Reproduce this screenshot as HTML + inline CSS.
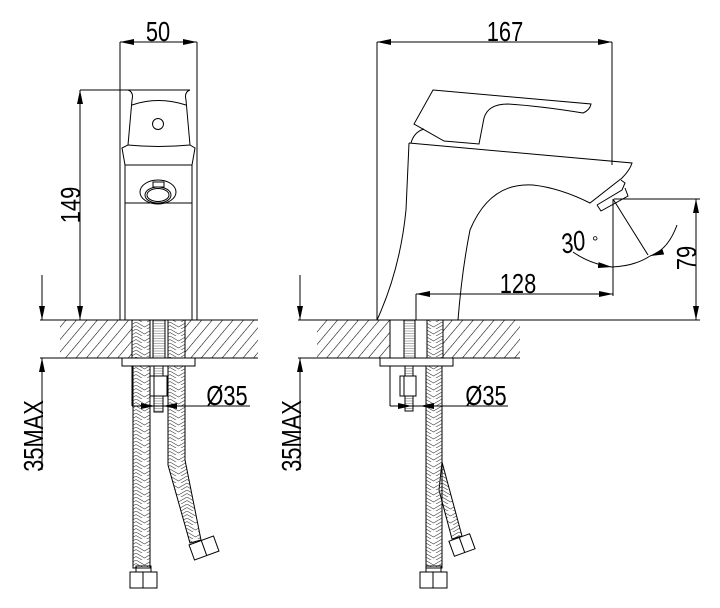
<!DOCTYPE html>
<html><head><meta charset="utf-8"><style>
html,body{margin:0;padding:0;background:#fff}
svg{display:block}
text{font-family:"Liberation Sans",sans-serif;fill:#000}
</style></head><body>
<svg width="720" height="608" viewBox="0 0 720 608" xmlns="http://www.w3.org/2000/svg">
<defs>
<pattern id="hatch" width="8" height="8" patternUnits="userSpaceOnUse" patternTransform="rotate(40)">
<line x1="0" y1="0" x2="0" y2="8" stroke="#000" stroke-width="1.1"/>
</pattern>
<pattern id="braid" width="17" height="7" patternUnits="userSpaceOnUse">
<polyline points="0,0 8.5,5 17,0" fill="none" stroke="#444" stroke-width="0.6"/>
<polyline points="0,3.5 8.5,8.5 17,3.5" fill="none" stroke="#444" stroke-width="0.6"/>
</pattern>
<pattern id="thread" width="12" height="2.5" patternUnits="userSpaceOnUse">
<line x1="0" y1="1" x2="12" y2="1" stroke="#666" stroke-width="0.5"/>
</pattern>
<marker id="ar" viewBox="0 0 14 6" refX="14" refY="3" markerWidth="14" markerHeight="6" markerUnits="userSpaceOnUse" orient="auto-start-reverse">
<path d="M0,0 L14,3 L0,6 z" fill="#000"/>
</marker>
</defs>
<g stroke="#000" stroke-width="1" fill="none">

<rect x="60" y="320" width="72" height="38" fill="url(#hatch)" stroke="none"/>
<rect x="185" y="320" width="73" height="38" fill="url(#hatch)" stroke="none"/>
<line x1="40" y1="320" x2="258" y2="320"/>
<line x1="40" y1="358" x2="258" y2="358"/>
<line x1="120" y1="42" x2="120" y2="320"/>
<line x1="197" y1="42" x2="197" y2="320"/>
<line x1="80" y1="90" x2="190" y2="90"/>
<path d="M128,90 Q134,92 132,100 L128,145 L122,148 L125,165 L125,320"/>
<path d="M190,90 Q184,92 186,100 L190,145 L195,148 L192,165 L192,320"/>
<path d="M132,105 Q158,96 186,105"/>
<path d="M128,145 Q158,148 190,145"/>
<line x1="125" y1="165" x2="192" y2="165"/>
<line x1="125" y1="203" x2="192" y2="203"/>
<circle cx="158" cy="124" r="5.5"/>
<ellipse cx="158" cy="192" rx="18" ry="12"/>
<ellipse cx="158" cy="195" rx="13" ry="8"/>
<ellipse cx="158" cy="195" rx="11" ry="6.5"/>
<rect x="153" y="182" width="11" height="5"/>
<line x1="120" y1="42" x2="197" y2="42" marker-start="url(#ar)" marker-end="url(#ar)"/>
<line x1="80" y1="90" x2="80" y2="320" marker-start="url(#ar)" marker-end="url(#ar)"/>
<line x1="42" y1="275" x2="42" y2="320" marker-end="url(#ar)"/>
<line x1="42" y1="470" x2="42" y2="358" marker-end="url(#ar)"/>
<rect x="132" y="320" width="18" height="38" fill="url(#braid)"/>
<rect x="168" y="320" width="17" height="38" fill="url(#braid)"/>
<rect x="153" y="320" width="12" height="38" fill="url(#thread)"/>
<rect x="122" y="358" width="73" height="8"/>
<line x1="132" y1="366" x2="132" y2="406"/><line x1="185" y1="366" x2="185" y2="406"/>
<rect x="133" y="366" width="17" height="202" fill="url(#braid)"/>
<path d="M168,366 L185,366 L185,460 L201,540 L190,543 L168,465 Z" fill="url(#braid)"/>
<rect x="154" y="366" width="9" height="46" fill="url(#thread)"/>
<rect x="150" y="376" width="17" height="20" fill="#fff"/>
<line x1="154" y1="376" x2="154" y2="396"/>
<rect x="130" y="572" width="27" height="16"/>
<line x1="143" y1="572" x2="143" y2="588"/>
<rect x="136" y="566" width="15" height="6"/>
<g transform="translate(204,548) rotate(-20)"><rect x="-13" y="-8" width="26" height="16"/><line x1="0" y1="-8" x2="0" y2="8"/></g>
<line x1="132" y1="406" x2="250" y2="406"/>
<line x1="132" y1="406" x2="155" y2="406" marker-end="url(#ar)"/>
<line x1="185" y1="406" x2="163" y2="406" marker-end="url(#ar)"/>

<rect x="317" y="320" width="73" height="38" fill="url(#hatch)" stroke="none"/>
<rect x="443" y="320" width="77" height="38" fill="url(#hatch)" stroke="none"/>
<line x1="298" y1="320" x2="700" y2="320"/>
<line x1="298" y1="358" x2="520" y2="358"/>
<line x1="377" y1="42" x2="377" y2="320"/>
<line x1="612" y1="42" x2="612" y2="165"/>
<line x1="377" y1="42" x2="612" y2="42" marker-start="url(#ar)" marker-end="url(#ar)"/>
<path d="M433,90 L591,104 Q590,110 583,113 Q540,106 508,104 Q488,104 484,118 L479,144 L444,141 L414,124 Z"/>
<path d="M411,143 Q414,132 424,129"/>
<path d="M409,143 L632,163 Q630,170 622,178 L590,203 Q560,188 533,185 Q490,182 470,230 Q462,270 458,320"/>
<path d="M409,143 L406,210 Q400,270 377,320"/>
<path d="M597,205 L622,190 L625,183 L621,180"/>
<path d="M597,205 L601,211 L628,196 L625,188"/>
<line x1="614" y1="199" x2="700" y2="199"/>
<line x1="696" y1="199" x2="696" y2="320" marker-start="url(#ar)" marker-end="url(#ar)"/>
<line x1="613" y1="199" x2="613" y2="296"/>
<line x1="416" y1="294" x2="416" y2="320"/>
<line x1="416" y1="294" x2="613" y2="294" marker-start="url(#ar)" marker-end="url(#ar)"/>
<line x1="613" y1="199" x2="648" y2="255"/>
<path d="M573,252 Q590,264 612,267" marker-end="url(#ar)"/>
<path d="M677,225 Q668,250 650,256" marker-end="url(#ar)"/>
<path d="M612,267 Q635,266 650,256"/>
<line x1="300" y1="275" x2="300" y2="320" marker-end="url(#ar)"/>
<line x1="300" y1="470" x2="300" y2="358" marker-end="url(#ar)"/>
<rect x="427" y="320" width="16" height="38" fill="url(#braid)"/>
<rect x="404" y="320" width="11" height="38" fill="url(#thread)"/>
<line x1="390" y1="320" x2="390" y2="358"/><line x1="404" y1="320" x2="404" y2="358"/><line x1="415" y1="320" x2="415" y2="358"/><line x1="427" y1="320" x2="427" y2="358"/><line x1="443" y1="320" x2="443" y2="358"/>
<rect x="380" y="358" width="73" height="8"/>
<line x1="390" y1="366" x2="390" y2="406"/>
<path d="M442,462 L462,536 L452,539 L439,490 Z" fill="url(#braid)"/>
<rect x="426" y="366" width="16" height="202" fill="url(#braid)"/>
<rect x="405" y="366" width="8" height="45" fill="url(#thread)"/>
<line x1="405" y1="366" x2="405" y2="411"/><line x1="413" y1="366" x2="413" y2="411"/>
<rect x="400" y="376" width="16" height="20" fill="#fff"/>
<line x1="404" y1="376" x2="404" y2="396"/>
<rect x="420" y="572" width="27" height="16"/>
<line x1="433" y1="572" x2="433" y2="588"/>
<rect x="426" y="566" width="15" height="6"/>
<g transform="translate(462,545) rotate(-20)"><rect x="-11" y="-8" width="22" height="16"/><line x1="0" y1="-8" x2="0" y2="8"/></g>
<line x1="390" y1="406" x2="508" y2="406"/>
<line x1="390" y1="406" x2="412" y2="406" marker-end="url(#ar)"/>
<line x1="442" y1="406" x2="420" y2="406" marker-end="url(#ar)"/>
</g>

<g font-size="28">
<text transform="translate(158,41) scale(0.78,1)" text-anchor="middle">50</text>
<text transform="translate(505,41) scale(0.78,1)" text-anchor="middle">167</text>
<text transform="translate(518,293) scale(0.78,1)" text-anchor="middle">128</text>
<text transform="translate(227,405) scale(0.78,1)" text-anchor="middle">Ø35</text>
<text transform="translate(486,405) scale(0.78,1)" text-anchor="middle">Ø35</text>
<text transform="translate(80,205) rotate(-90) scale(0.78,1)" text-anchor="middle">149</text>
<text transform="translate(696,258) rotate(-90) scale(0.78,1)" text-anchor="middle">79</text>
<text transform="translate(43,436) rotate(-90) scale(0.78,1)" text-anchor="middle">35MAX</text>
<text transform="translate(301,436) rotate(-90) scale(0.78,1)" text-anchor="middle">35MAX</text>
<text transform="translate(563,254) rotate(-12) scale(0.78,1)" font-style="italic">30</text>
<text x="592" y="247" font-size="16">°</text>
</g>
</svg>
</body></html>
